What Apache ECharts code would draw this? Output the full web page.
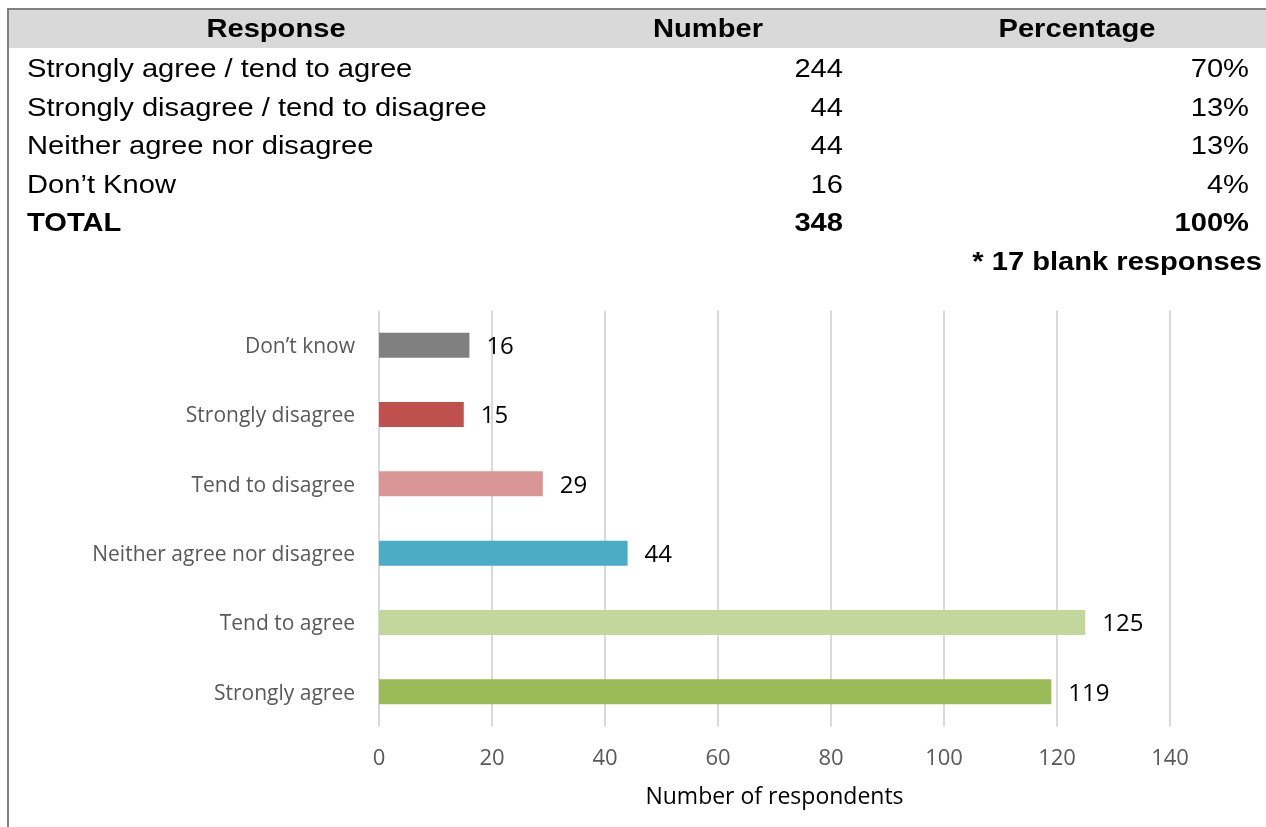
<!DOCTYPE html>
<html>
<head>
<meta charset="utf-8">
<style>html,body{margin:0;padding:0;background:#fff;}#c{width:1266px;height:827px;}</style>
<script src="https://cdn.jsdelivr.net/npm/echarts@6/dist/echarts.min.js"></script>
</head>
<body>
<div id="c"></div>
<script>
// Table data
var tableHeaders = ['Response', 'Number', 'Percentage'];
var tableResponses = ['Strongly agree / tend to agree', 'Strongly disagree / tend to disagree', 'Neither agree nor disagree', 'Don\u2019t Know', 'TOTAL'];
var tableNumbers = ['244', '44', '44', '16', '348'];
var tablePercents = ['70%', '13%', '13%', '4%', '100%'];
var tableNote = '* 17 blank responses';

// Chart data (bottom to top)
var categories = ['Strongly agree', 'Tend to agree', 'Neither agree nor disagree', 'Tend to disagree', 'Strongly disagree', 'Don\u2019t know'];
var values = [119, 125, 44, 29, 15, 16];
var barColors = ['#9bbb59', '#c3d69b', '#4bacc6', '#d99694', '#c0504d', '#808080'];
var xTicks = { min: 0, max: 140, interval: 20 };
var xAxisTitle = 'Number of respondents';

var chart = echarts.init(document.getElementById('c'), null, { renderer: 'canvas' });

var F = 'Liberation Sans, Arial, sans-serif';
var SX = 1.12;
var graphics = [];
graphics.push({ type: 'rect', shape: { x: 9, y: 10, width: 1260, height: 38 }, style: { fill: '#d9d9d9' }, silent: true });
graphics.push({ type: 'line', shape: { x1: 8, y1: 9, x2: 1266, y2: 9 }, style: { stroke: '#808080', lineWidth: 2 }, silent: true });
graphics.push({ type: 'line', shape: { x1: 8, y1: 8, x2: 8, y2: 827 }, style: { stroke: '#808080', lineWidth: 2 }, silent: true });
var headerX = [276, 708, 1077];
tableHeaders.forEach(function (h, i) {
  graphics.push({ type: 'text', x: headerX[i], y: 30, scaleX: SX, silent: true,
    style: { text: h, font: 'bold 26px ' + F, fill: '#000', textAlign: 'center', textVerticalAlign: 'middle', align: 'center', verticalAlign: 'middle' } });
});
var rowY = [70, 108.5, 147, 185.5, 224];
tableResponses.forEach(function (r, i) {
  var bold = (i === tableResponses.length - 1) ? 'bold ' : '';
  graphics.push({ type: 'text', x: 27, y: rowY[i], scaleX: SX, silent: true,
    style: { text: r, font: bold + '26px ' + F, fill: '#000', textAlign: 'left', textVerticalAlign: 'middle', align: 'left', verticalAlign: 'middle' } });
  graphics.push({ type: 'text', x: 843, y: rowY[i], scaleX: SX, silent: true,
    style: { text: tableNumbers[i], font: bold + '26px ' + F, fill: '#000', textAlign: 'right', textVerticalAlign: 'middle', align: 'right', verticalAlign: 'middle' } });
  graphics.push({ type: 'text', x: 1249, y: rowY[i], scaleX: SX, silent: true,
    style: { text: tablePercents[i], font: bold + '26px ' + F, fill: '#000', textAlign: 'right', textVerticalAlign: 'middle', align: 'right', verticalAlign: 'middle' } });
});
graphics.push({ type: 'text', x: 1262, y: 263, scaleX: SX, silent: true,
  style: { text: tableNote, font: 'bold 26px ' + F, fill: '#000', textAlign: 'right', textVerticalAlign: 'middle', align: 'right', verticalAlign: 'middle' } });

var CF = 'Open Sans, Noto Sans, sans-serif';
chart.setOption({
  animation: false,
  backgroundColor: '#fff',
  graphic: graphics,
  grid: { left: 379, right: 96, top: 310.5, bottom: 100.5, containLabel: false },
  xAxis: {
    type: 'value', min: xTicks.min, max: xTicks.max, interval: xTicks.interval,
    name: xAxisTitle, nameLocation: 'middle', nameGap: 59,
    nameTextStyle: { fontFamily: CF, fontSize: 23, color: '#000' },
    axisLine: { show: false }, axisTick: { show: false },
    axisLabel: { fontFamily: CF, fontSize: 22, color: '#595959', margin: 21 },
    splitLine: { show: true, lineStyle: { color: '#d9d9d9', width: 2 } }
  },
  yAxis: {
    type: 'category', data: categories,
    axisLine: { show: false }, axisTick: { show: false },
    axisLabel: {
      margin: 24,
      formatter: function (v) { return '{c|' + v + '}'; },
      rich: { c: { fontFamily: CF, fontSize: 21, color: '#595959', padding: [4, 0, 0, 0] } }
    }
  },
  series: [{
    type: 'bar', barWidth: 25,
    data: values.map(function (v, i) { return { value: v, itemStyle: { color: barColors[i] } }; }),
    label: { show: true, position: 'right', distance: 17, offset: [0, 2], fontFamily: CF, fontSize: 24, color: '#000' }
  }]
});
</script>
</body>
</html>
